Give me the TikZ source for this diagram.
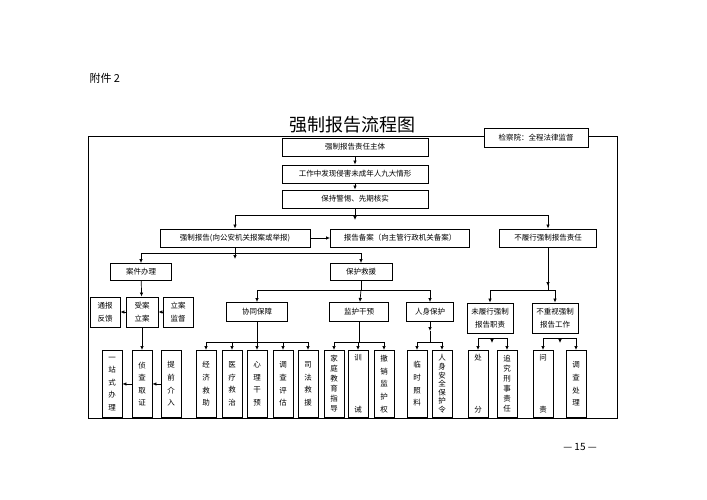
\documentclass[tikz,border=0pt]{standalone}
\usepackage{fontspec}
\setmainfont{Noto Sans CJK SC}
\usetikzlibrary{arrows.meta}
\begin{document}
\begin{tikzpicture}[x=1pt,y=-1pt,
  box/.style={draw, line width=0.9pt, inner sep=0pt, align=center, font=\fontsize{7.5}{12.6}\selectfont},
  vbox/.style={box, minimum width=20, minimum height=67, anchor=north},
  arr/.style={line width=0.7pt, -{Latex[length=4pt,width=3.5pt]}},
  ln/.style={line width=0.7pt}]
\useasboundingbox (0,0) rectangle (707,500);
\node[anchor=west, font=\fontsize{11}{13}\selectfont] (att) at (86,78) {附件 2};
\node[font=\fontsize{18}{20}\selectfont] (title) at (352,125) {强制报告流程图};
\draw[line width=1pt] (88,137) rectangle (617,418);
\node[box, minimum width=104, minimum height=19, fill=white] (jcy) at (536,138) {检察院：全程法律监督};
% main chain
\node[box, minimum width=146, minimum height=18] (zt) at (355,147) {强制报告责任主体};
\node[box, minimum width=146, minimum height=18] (fx) at (355,174) {工作中发现侵害未成年人九大情形};
\node[box, minimum width=146, minimum height=18] (hs) at (355,199) {保持警惕、先期核实};
\draw[arr] (zt) -- (fx);
\draw[arr] (fx) -- (hs);
\node[box, minimum width=150, minimum height=18] (qzbg) at (235,238) {强制报告(向公安机关报案或举报)};
\node[box, minimum width=139, minimum height=18] (bgba) at (400,238) {报告备案（向主管行政机关备案）};
\node[box, minimum width=97, minimum height=18] (blx) at (548,238) {不履行强制报告责任};
\coordinate (j1) at (355,215);
\draw[ln] (hs) -- (j1);
\draw[arr] (j1) -- (355,220);
\draw[arr] (j1) -| (qzbg);
\draw[arr] (j1) -| (blx);
\draw[arr] (qzbg) -- (bgba);
% left and middle branch
\node[box, minimum width=61, minimum height=17] (ajbl) at (141,272) {案件办理};
\node[box, minimum width=62, minimum height=17] (bhjy) at (361,272) {保护救援};
\coordinate (j2) at (235,253);
\draw[ln] (qzbg) -- (j2);
\draw[arr] (j2) -- (235,259);
\draw[arr] (j2) -| (ajbl);
\draw[arr] (j2) -| (bhjy);
% case handling
\node[box, minimum width=30, minimum height=30] (tbfk) at (105,312) {通报\\反馈};
\node[box, minimum width=32, minimum height=30] (sala) at (142,312) {受案\\立案};
\node[box, minimum width=30, minimum height=30] (lajd) at (178,312) {立案\\监督};
\draw[arr] (ajbl) -- (sala);
\draw[arr] (sala) -- (tbfk);
\draw[arr] (lajd) -- (sala);
\node[vbox] (yzs) at (112,350) {一\\站\\式\\办\\理};
\node[vbox] (zcqz) at (142,350) {侦\\查\\取\\证};
\node[vbox] (tqjr) at (171,350) {提\\前\\介\\入};
\draw[arr] (sala) -- (zcqz);
\draw[arr] (zcqz) -- (yzs);
\draw[arr] (tqjr) -- (zcqz);
% protection
\node[box, minimum width=61, minimum height=19] (xtbz) at (257,312) {协同保障};
\node[box, minimum width=59, minimum height=19] (jhgy) at (359,312) {监护干预};
\node[box, minimum width=47, minimum height=19] (rsbh) at (430,312) {人身保护};
\coordinate (j3) at (361,290);
\draw[ln] (bhjy) -- (j3);
\draw[arr] (j3) -| (xtbz);
\draw[arr] (j3) -- (jhgy);
\draw[arr] (j3) -| (rsbh);
\node[vbox] (jjjz) at (206,350) {经\\济\\救\\助};
\node[vbox] (ylzz) at (232,350) {医\\疗\\救\\治};
\node[vbox] (xlgy) at (257,350) {心\\理\\干\\预};
\node[vbox] (dcpg) at (283,350) {调\\查\\评\\估};
\node[vbox] (sfjy) at (308,350) {司\\法\\救\\援};
\coordinate (j4) at (257,342);
\draw[ln] (xtbz) -- (j4);
\foreach \b in {jjjz,ylzz,xlgy,dcpg,sfjy} \draw[arr] (j4) -| (\b);
\node[vbox, font=\fontsize{7.5}{10}\selectfont] (jtjy) at (334,350) {家\\庭\\教\\育\\指\\导};
\node[vbox] (xj) at (358,350) {训\\[39pt]诫};
\node[vbox] (cxjh) at (384,350) {撤\\销\\监\\护\\权};
\coordinate (j5) at (359,342);
\draw[ln] (jhgy) -- (j5);
\foreach \b in {jtjy,xj,cxjh} \draw[arr] (j5) -| (\b);
\node[vbox] (lszl) at (417,350) {临\\时\\照\\料};
\node[vbox, font=\fontsize{7.5}{8.6}\selectfont] (rsaq) at (442,350) {人\\身\\安\\全\\保\\护\\令};
\coordinate (j6) at (430,342);
\draw[arr] (rsbh) -- (430,331);
\draw[ln] (430,331) -- (j6);
\foreach \b in {lszl,rsaq} \draw[arr] (j6) -| (\b);
% non-performance
\node[box, minimum width=46, minimum height=30] (wlx) at (490,318) {未履行强制\\报告职责};
\node[box, minimum width=46, minimum height=30] (bzs) at (555,318) {不重视强制\\报告工作};
\coordinate (j7) at (548,290);
\draw[ln] (blx) -- (j7);
\draw[arr] (blx) -- (548,286);
\draw[arr] (j7) -| (wlx);
\draw[arr] (j7) -| (bzs);
\node[vbox] (cf) at (478,350) {处\\[39pt]分};
\node[vbox, font=\fontsize{7.5}{10}\selectfont] (zjxs) at (507,350) {追\\究\\刑\\事\\责\\任};
\node[vbox] (wz) at (543,350) {问\\[39pt]责};
\node[vbox] (dccl) at (576,350) {调\\查\\处\\理};
\coordinate (j8) at (492,338);
\draw[arr] (j8) -- (492,343);
\foreach \b in {cf,zjxs} \draw[arr] (j8) -| (\b);
\coordinate (j9) at (560,338);
\draw[arr] (j9) -- (560,343);
\foreach \b in {wz,dccl} \draw[arr] (j9) -| (\b);
\node[font=\fontsize{10}{12}\selectfont] (pg) at (580,447) {— 15 —};
\end{tikzpicture}
\end{document}
